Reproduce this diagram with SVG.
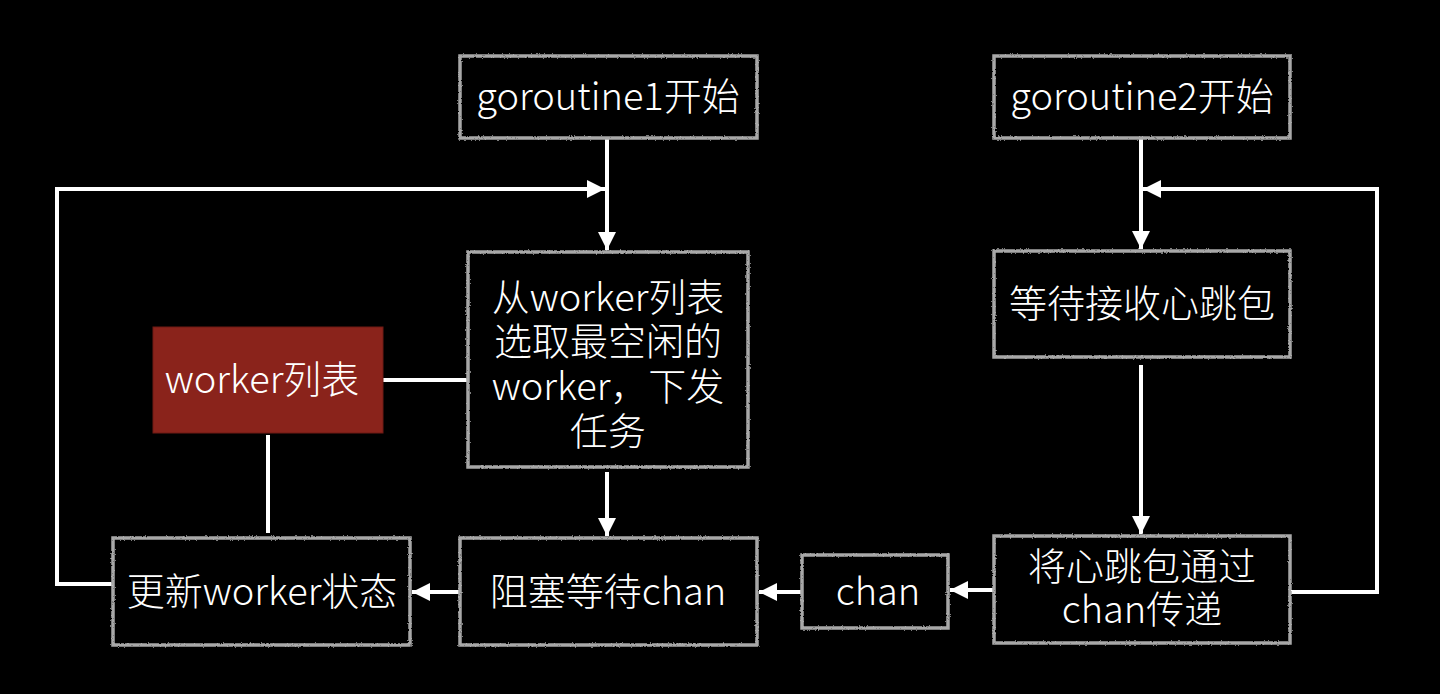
<svg xmlns="http://www.w3.org/2000/svg" width="1440" height="694" viewBox="0 0 1440 694">
<defs>
<style>
.box{fill:#000;stroke:#a8a8a8;stroke-width:3.5;filter:url(#rough)}
.red{fill:#8a231b;stroke:#6e1a14;stroke-width:1}
.t{font-family:"Noto Sans CJK SC","Noto Sans",sans-serif;font-weight:300;font-size:38px;fill:#fff;text-anchor:middle}
.c{fill:none;stroke:#fff;stroke-width:4}
.a{marker-end:url(#arr)}
</style>
<filter id="rough" x="-5%" y="-5%" width="110%" height="110%">
<feTurbulence type="fractalNoise" baseFrequency="0.6" numOctaves="2" seed="3" result="n"/>
<feDisplacementMap in="SourceGraphic" in2="n" scale="2.5" xChannelSelector="R" yChannelSelector="G"/>
</filter>
<marker id="arr" markerUnits="userSpaceOnUse" markerWidth="20" markerHeight="20" refX="18" refY="10" orient="auto">
<path d="M0,1 L18,10 L0,19 z" fill="#fff"/>
</marker>
</defs>
<rect width="1440" height="694" fill="#000"/>
<g id="connectors">
<path class="c a" d="M607 138 V250"/>
<path class="c a" d="M113 584 H57 V189 H605"/>
<path class="c a" d="M1141 138 V249"/>
<path class="c a" d="M1290 592 H1377 V189 H1143"/>
<path class="c a" d="M1141 365 V534"/>
<path class="c a" d="M607 472 V536"/>
<path class="c" d="M383 380 H468"/>
<path class="c" d="M268 435 V533"/>
<path class="c a" d="M460 592 H412"/>
<path class="c a" d="M802 592 H759"/>
<path class="c a" d="M994 590 H950"/>
</g>
<g id="n-g1"><rect class="box" x="460" y="56" width="297" height="82"/><text class="t" x="608" y="110">goroutine1开始</text></g>
<g id="n-g2"><rect class="box" x="994" y="56" width="296" height="82"/><text class="t" x="1142" y="110">goroutine2开始</text></g>
<g id="n-select"><rect class="box" x="468" y="252" width="280" height="215"/>
<text class="t"><tspan x="608" y="311">从worker列表</tspan><tspan x="608" y="355">选取最空闲的</tspan><tspan x="608" y="400">worker，下发</tspan><tspan x="608" y="445">任务</tspan></text></g>
<g id="n-list"><rect class="red" x="153" y="327" width="230" height="106"/><text class="t" x="262" y="393">worker列表</text></g>
<g id="n-wait"><rect class="box" x="994" y="251" width="296" height="106"/><text class="t" x="1142" y="317">等待接收心跳包</text></g>
<g id="n-update"><rect class="box" x="113" y="538" width="297" height="107"/><text class="t" x="262" y="605">更新worker状态</text></g>
<g id="n-block"><rect class="box" x="460" y="538" width="297" height="107"/><text class="t" x="608" y="605">阻塞等待chan</text></g>
<g id="n-chan"><rect class="box" x="802" y="555" width="146" height="73"/><text class="t" x="878" y="605">chan</text></g>
<g id="n-send"><rect class="box" x="994" y="536" width="296" height="107"/>
<text class="t"><tspan x="1142" y="580">将心跳包通过</tspan><tspan x="1142" y="623">chan传递</tspan></text></g>
</svg>
